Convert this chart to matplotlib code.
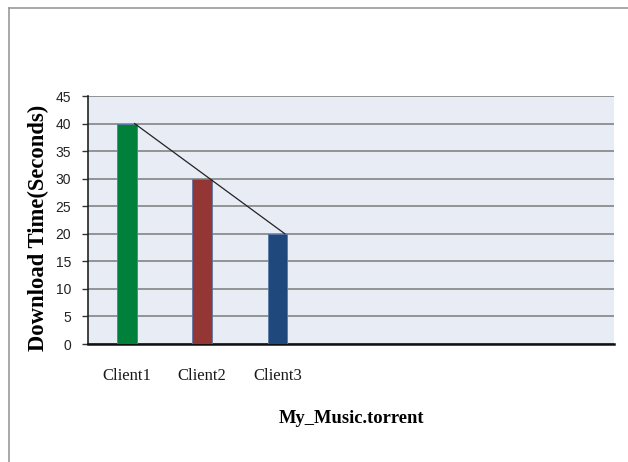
import matplotlib
matplotlib.use("Agg")
import matplotlib.pyplot as plt
from matplotlib.lines import Line2D

categories = ["Client1", "Client2", "Client3"]
values = [40, 30, 20]
bar_colors = ["#00803A", "#943634", "#1F497D"]
yticks = [0, 5, 10, 15, 20, 25, 30, 35, 40, 45]
xlabel = "My_Music.torrent"
ylabel = "Download Time(Seconds)"

W, H = 628, 462
fig = plt.figure(figsize=(W / 100, H / 100), dpi=100)
fig.patch.set_facecolor("white")

# outer sheet border (top and left)
fig.add_artist(Line2D([9 / W, 9 / W], [0, 1 - 8 / H], color="#9A9A9A", lw=1.2))
fig.add_artist(Line2D([9 / W, 1], [1 - 8 / H, 1 - 8 / H], color="#9A9A9A", lw=1.2))

ax = fig.add_axes([88 / W, (H - 344) / H, 526 / W, 248 / H])
ax.set_facecolor("#E8ECF5")

x = list(range(len(categories)))
ax.bar(x, values, width=0.26, color=bar_colors, edgecolor="#5B77A6", linewidth=0.6, zorder=3)
ax.plot([i + 0.1 for i in x], values, color="#222222", lw=0.9, zorder=4)

ax.set_xlim(-0.52, 6.48)
ax.set_ylim(0, 45)
ax.set_yticks(yticks)
ax.set_yticklabels([str(t) for t in yticks], family="Liberation Sans", fontsize=10, color="#222222")
ax.yaxis.grid(True, color="#8C8C8C", lw=1.3, zorder=1)
ax.set_axisbelow(True)
ax.tick_params(axis="y", direction="out", length=4, width=1, pad=8, color="#333333")

ax.set_xticks(x)
ax.set_xticklabels(categories, family="Liberation Serif", fontsize=12, color="#1a1a1a")
ax.tick_params(axis="x", length=0, pad=17)

for s in ["top", "right"]:
    ax.spines[s].set_visible(False)
ax.spines["left"].set_color("#222222")
ax.spines["left"].set_linewidth(1.2)
ax.spines["bottom"].set_color("#111111")
ax.spines["bottom"].set_linewidth(1.8)

ax.set_xlabel(xlabel, family="Liberation Serif", fontweight="bold", fontsize=13.3, labelpad=19)
ax.set_ylabel(ylabel, family="Liberation Serif", fontweight="bold", fontsize=16.3)
ax.yaxis.set_label_coords(-0.074, 0.47)

fig.savefig("out.png", dpi=100)
